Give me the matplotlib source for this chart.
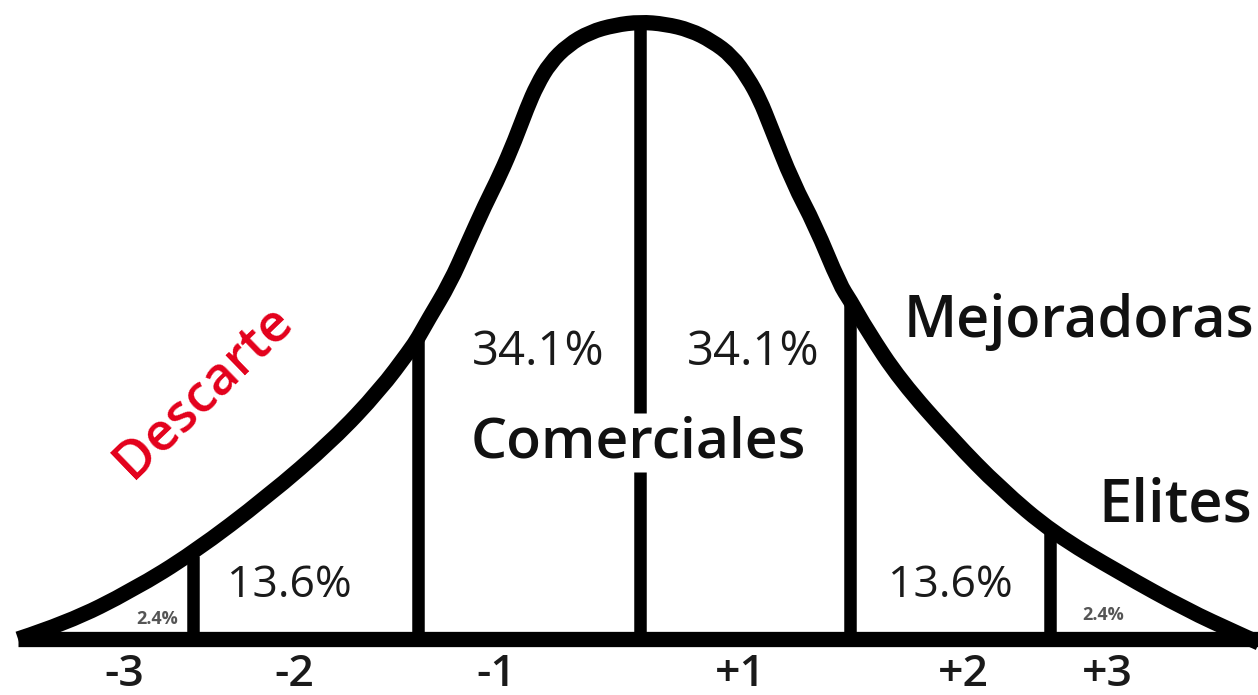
import matplotlib
matplotlib.use("Agg")
import matplotlib.pyplot as plt
from matplotlib.path import Path
from matplotlib.patches import PathPatch

plt.rcParams['font.family'] = ['Open Sans', 'DejaVu Sans']

# curve (pixel coords, y down)
curve_x = [18, 67, 133, 193, 267, 333, 380, 410, 418, 428, 450, 467, 485, 500, 515, 527,
           537, 550, 568, 590, 615, 640, 665, 690, 712, 732, 748, 760,
           770, 793, 815, 840, 850, 867, 900, 953, 1000, 1053, 1120, 1187, 1237, 1270]
curve_y = [639, 623, 590, 553, 497, 440, 390, 350, 338, 320, 283, 245, 205, 175, 140, 108,
           85, 63, 45, 32, 25, 22, 24, 30, 41, 56, 78, 100,
           125, 183, 225, 285, 300, 330, 380, 440, 488, 533, 573, 610, 633, 648]

# dividers between sigma bands
div_x = [193, 418, 850, 1050]
div_top = [556, 338, 300, 533]
center_x = 640
center_top = 23
center_gap = [413, 472]
base_y = 639
base_x = [18, 1258]

pct_labels = ['2.4%', '13.6%', '34.1%', '34.1%', '13.6%', '2.4%']
pct_x = [136, 227, 472, 687, 888, 1082]
pct_y = [624, 597, 365, 365, 597, 620]
pct_size = [13, 32, 34, 34, 32, 13]

sigma_labels = ['-3', '-2', '-1', '+1', '+2', '+3']
sigma_x = [124, 294, 496, 740, 963, 1107]

fig = plt.figure(figsize=(12.58, 6.95), dpi=100)
ax = fig.add_axes([0, 0, 1, 1])
ax.set_xlim(0, 1258)
ax.set_ylim(695, 0)
ax.axis('off')

# smooth the traced points with quadratic segments
pts = list(zip(curve_x, curve_y))
verts = [pts[0]]
codes = [Path.MOVETO]
for i in range(1, len(pts) - 1):
    mid = ((pts[i][0] + pts[i + 1][0]) / 2, (pts[i][1] + pts[i + 1][1]) / 2)
    verts += [pts[i], mid]
    codes += [Path.CURVE3, Path.CURVE3]
verts.append(pts[-1])
codes.append(Path.LINETO)
ax.add_patch(PathPatch(Path(verts, codes), facecolor='none', edgecolor='black',
                       lw=11, joinstyle='round', capstyle='butt'))

ax.plot(base_x, [base_y, base_y], color='black', lw=11, solid_capstyle='butt')
for x, t in zip(div_x, div_top):
    ax.plot([x, x], [base_y, t], color='black', lw=9, solid_capstyle='butt')
ax.plot([center_x, center_x], [center_top, center_gap[0]], color='black', lw=9, solid_capstyle='butt')
ax.plot([center_x, center_x], [center_gap[1], base_y], color='black', lw=9, solid_capstyle='butt')

# percentages
for s, x, y, fs in zip(pct_labels, pct_x, pct_y, pct_size):
    if s == '2.4%':
        ax.text(x, y, s, fontsize=fs, fontweight='bold', color='#555555', ha='left', va='baseline')
    else:
        ax.text(x, y, s, fontsize=fs, color='#1a1a1a', ha='left', va='baseline')

for s, x in zip(sigma_labels, sigma_x):
    ax.text(x, 686, s, fontsize=32, fontweight='semibold', color='#1a1a1a', ha='center', va='baseline')

ax.text(638, 457, 'Comerciales', fontsize=41, fontweight='semibold', color='#111111',
        ha='center', va='baseline')
ax.text(1254, 337, 'Mejoradoras', fontsize=41.5, fontweight='semibold', color='#111111',
        ha='right', va='baseline')
ax.text(1252, 522, 'Elites', fontsize=43, fontweight='semibold', color='#111111',
        ha='right', va='baseline')
ax.text(203, 392, 'Descarte', fontsize=38, fontweight='semibold', color='#e3001b',
        ha='center', va='center', rotation=44, rotation_mode='anchor')

fig.savefig('out.png', dpi=100)
